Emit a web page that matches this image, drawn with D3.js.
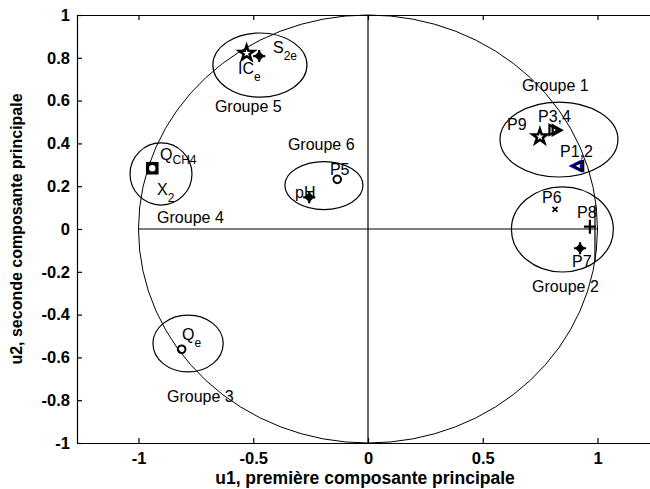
<!DOCTYPE html>
<html>
<head>
<meta charset="utf-8">
<script src="https://cdn.jsdelivr.net/npm/d3@7"></script>
<style>
  html, body { margin: 0; padding: 0; background: #fff; }
  svg { display: block; font-family: "Liberation Sans", Arial, sans-serif; }
</style>
</head>
<body>
<svg id="chart" width="650" height="489"></svg>
<script>
// Variables projected on the first two principal components
const varNames  = ["S2e", "ICe", "P9", "P3", "P4", "P1", "P2", "P6", "P8", "P7", "QCH4", "X2", "P5", "pH", "Qe"];
const varU1     = [-0.474, -0.529, 0.749, 0.808, 0.822, 0.906, 0.916, 0.815, 0.967, 0.924, -0.940, -0.940, -0.134, -0.256, -0.812];
const varU2     = [ 0.808,  0.821, 0.431, 0.463, 0.462, 0.294, 0.294, 0.092, 0.011, -0.090, 0.284, 0.284, 0.232, 0.148, -0.562];
const varMarker = ["plusd", "star", "star", "triR", "triR", "triLb", "triL", "x", "plus", "plusd", "square", "ring", "circle", "plusd", "circle"];

// Variable labels: main text, subscript, anchor (data coordinates)
const labelMain = ["S", "IC", "P9", "P3,4", "P1,2", "P6", "P8", "P7", "Q", "X", "P5", "pH", "Q"];
const labelSub  = ["2e", "e", "", "", "", "", "", "", "CH4", "2", "", "", "e"];
const labelU1   = [-0.414, -0.566, 0.606, 0.741, 0.837, 0.758, 0.911, 0.889, -0.906, -0.919, -0.166, -0.318, -0.810];
const labelU2   = [ 0.822,  0.724, 0.463, 0.500, 0.336, 0.121, 0.051, -0.178, 0.322, 0.159, 0.252, 0.145, -0.519];

// Groups of variables: enclosing ellipses and their titles
const groupNames = ["Groupe 1", "Groupe 2", "Groupe 3", "Groupe 4", "Groupe 5", "Groupe 6"];
const groupCx    = [0.832, 0.847, -0.784, -0.902, -0.471, -0.192];
const groupCy    = [0.418, -0.002, -0.535, 0.257, 0.766, 0.203];
const groupRx    = [0.257, 0.222, 0.153, 0.135, 0.205, 0.170];
const groupRy    = [0.175, 0.199, 0.133, 0.145, 0.150, 0.112];
const groupLabU1 = [0.671, 0.715, -0.876, -0.919, -0.667, -0.349];
const groupLabU2 = [0.645, -0.294, -0.808, 0.028, 0.547, 0.369];

// Axis ticks
const xTicks = [-1, -0.5, 0, 0.5, 1];
const xTickLabels = ["-1", "-0.5", "0", "0.5", "1"];
const yTicks = [-1, -0.8, -0.6, -0.4, -0.2, 0, 0.2, 0.4, 0.6, 0.8, 1];
const yTickLabels = ["-1", "-0.8", "-0.6", "-0.4", "-0.2", "0", "0.2", "0.4", "0.6", "0.8", "1"];
const xDomain = [-1.268, 1.268];
const yDomain = [-1, 1];

const svg = d3.select("#chart");
const x = d3.scaleLinear().domain(xDomain).range([77, 659]);
const y = d3.scaleLinear().domain(yDomain).range([443, 15]);

svg.append("rect").attr("width", 650).attr("height", 489).attr("fill", "#fff");

// Axes (MATLAB style: ticks inside the box)
function styleAxis(g) {
  g.selectAll("path.domain").attr("stroke", "#000").attr("stroke-width", 1.2);
  g.selectAll(".tick line").attr("stroke", "#000").attr("stroke-width", 1.2);
  g.selectAll(".tick text").attr("fill", "#000").attr("font-weight", "bold")
    .attr("font-size", 16.5).attr("font-family", "Liberation Sans, Arial, sans-serif");
}
svg.append("g").attr("transform", `translate(0,${y(-1)})`)
  .call(d3.axisBottom(x).tickValues(xTicks).tickFormat((d, i) => xTickLabels[i]).tickSizeInner(-5).tickSizeOuter(0).tickPadding(9))
  .call(styleAxis);
svg.append("g").attr("transform", `translate(0,${y(1)})`)
  .call(d3.axisTop(x).tickValues(xTicks).tickFormat("").tickSizeInner(-5).tickSizeOuter(0))
  .call(styleAxis);
svg.append("g").attr("transform", `translate(${x(xDomain[0])},0)`)
  .call(d3.axisLeft(y).tickValues(yTicks).tickFormat((d, i) => yTickLabels[i]).tickSizeInner(-5).tickSizeOuter(0).tickPadding(7))
  .call(styleAxis);

// Axis titles
svg.append("text").attr("x", x(0) - 3).attr("y", 484).attr("text-anchor", "middle")
  .attr("font-weight", "bold").attr("font-size", 17.5).text("u1, première composante principale");
svg.append("text").attr("transform", `translate(22,${y(0)}) rotate(-90)`).attr("text-anchor", "middle")
  .attr("font-weight", "bold").attr("font-size", 16).text("u2, seconde composante principale");

// Correlation circle and reference axes
const plot = svg.append("g");
plot.append("line").attr("x1", x(-1)).attr("x2", x(1)).attr("y1", y(0)).attr("y2", y(0))
  .attr("stroke", "#000").attr("stroke-width", 1.2);
plot.append("line").attr("x1", x(0)).attr("x2", x(0)).attr("y1", y(-1)).attr("y2", y(1))
  .attr("stroke", "#000").attr("stroke-width", 1.2);
plot.append("line").attr("x1", x(0.989)).attr("x2", x(0.989)).attr("y1", y(0.112)).attr("y2", y(-0.154))
  .attr("stroke", "#000").attr("stroke-width", 1.2);
plot.append("ellipse").attr("cx", x(0)).attr("cy", y(0))
  .attr("rx", x(1) - x(0)).attr("ry", y(0) - y(1))
  .attr("fill", "none").attr("stroke", "#000").attr("stroke-width", 1);

// Group ellipses and titles
groupNames.forEach((name, i) => {
  plot.append("ellipse").attr("cx", x(groupCx[i])).attr("cy", y(groupCy[i]))
    .attr("rx", x(groupRx[i]) - x(0)).attr("ry", y(0) - y(groupRy[i]))
    .attr("fill", "none").attr("stroke", "#000").attr("stroke-width", 1.2);
  plot.append("text").attr("x", x(groupLabU1[i])).attr("y", y(groupLabU2[i]))
    .attr("font-size", 16).attr("fill", "#000").text(name);
});

// Variable markers
function drawMarker(g, type, cx, cy) {
  const m = g.append("g").attr("transform", `translate(${cx},${cy})`);
  switch (type) {
    case "star":
      m.append("path").attr("d", d3.symbol().type(d3.symbolStar).size(70)())
        .attr("fill", "#fff").attr("stroke", "#000").attr("stroke-width", 2.4);
      break;
    case "plusd":
      m.append("path").attr("d", "M-5,0L0,-5L5,0L0,5Z").attr("fill", "#000");
      m.append("path").attr("d", "M-6,0H6M0,-6V6").attr("stroke", "#000").attr("stroke-width", 2.2);
      break;
    case "plus":
      m.append("path").attr("d", "M-6,0H6M0,-7V7").attr("stroke", "#000").attr("stroke-width", 2.2);
      break;
    case "x":
      m.append("path").attr("d", "M-2.5,-2.5L2.5,2.5M-2.5,2.5L2.5,-2.5").attr("stroke", "#000").attr("stroke-width", 1.6);
      break;
    case "triR":
      m.append("path").attr("d", "M-4,-5L5,0L-4,5Z").attr("fill", "none").attr("stroke", "#000").attr("stroke-width", 2.2);
      break;
    case "triL":
      m.append("path").attr("d", "M5,-5L-5,0L5,5Z").attr("fill", "none").attr("stroke", "#000").attr("stroke-width", 2.2);
      break;
    case "triLb":
      m.append("path").attr("d", "M5,-5L-5,0L5,5Z").attr("fill", "none").attr("stroke", "#0000ff").attr("stroke-width", 2.2);
      break;
    case "square":
      m.append("rect").attr("x", -5).attr("y", -5).attr("width", 10).attr("height", 10)
        .attr("fill", "none").attr("stroke", "#000").attr("stroke-width", 2.6);
      break;
    case "ring":
      m.append("circle").attr("r", 4.5).attr("fill", "none").attr("stroke", "#000").attr("stroke-width", 2.6);
      break;
    case "circle":
      m.append("circle").attr("r", 3.8).attr("fill", "none").attr("stroke", "#000").attr("stroke-width", 2);
      break;
  }
}
varNames.forEach((n, i) => drawMarker(plot, varMarker[i], x(varU1[i]), y(varU2[i])));

// Variable labels with subscripts
labelMain.forEach((t, i) => {
  const txt = plot.append("text").attr("x", x(labelU1[i])).attr("y", y(labelU2[i]))
    .attr("font-size", 16).attr("fill", "#000");
  txt.append("tspan").text(t);
  if (labelSub[i]) {
    txt.append("tspan").attr("font-size", 12).attr("dy", labelSub[i] === "CH4" ? 4 : 7).text(labelSub[i]);
  }
});
</script>
</body>
</html>
